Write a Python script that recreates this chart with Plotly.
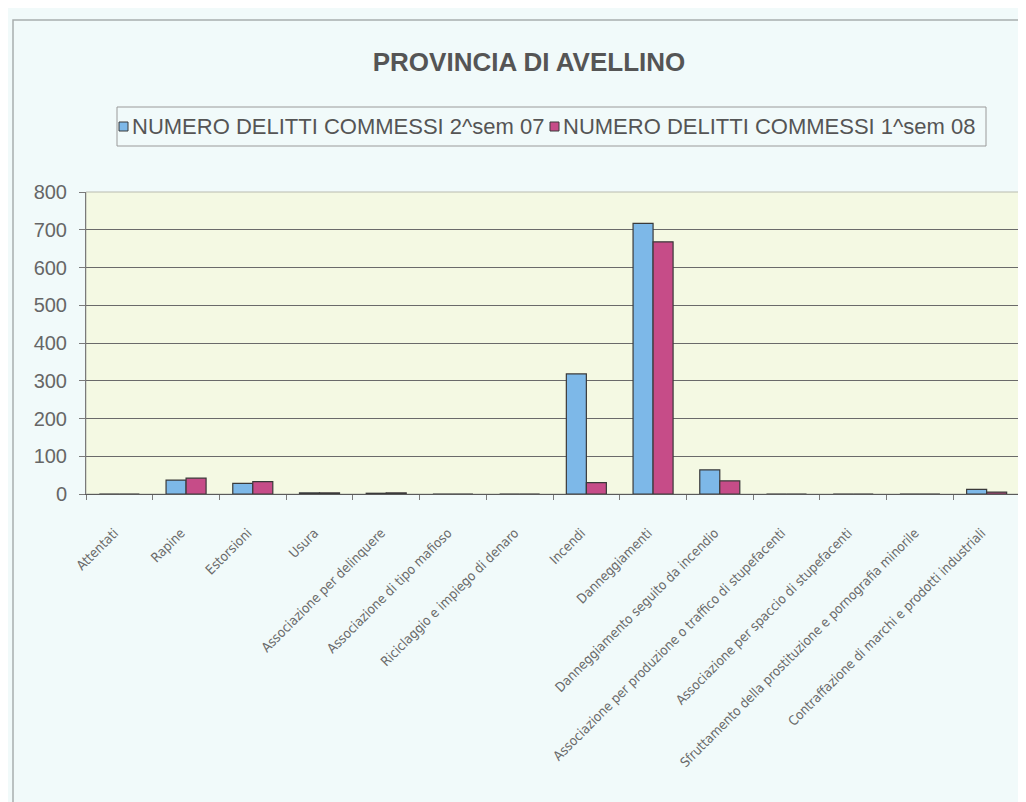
import plotly.graph_objects as go

categories = [
    "Attentati",
    "Rapine",
    "Estorsioni",
    "Usura",
    "Associazione per delinquere",
    "Associazione di tipo mafioso",
    "Riciclaggio e impiego di denaro",
    "Incendi",
    "Danneggiamenti",
    "Danneggiamento seguito da incendio",
    "Associazione per produzione o traffico di stupefacenti",
    "Associazione per spaccio di stupefacenti",
    "Sfruttamento della prostituzione e pornografia minorile",
    "Contraffazione di marchi e prodotti industriali",
]
sem2_07 = [0, 37, 28, 3, 2, 0, 0, 318, 717, 64, 0, 0, 0, 12]
sem1_08 = [0, 42, 33, 3, 3, 0, 0, 30, 668, 35, 0, 0, 0, 5]
series_names = ["NUMERO DELITTI COMMESSI 2^sem 07", "NUMERO DELITTI COMMESSI 1^sem 08"]
series_colors = ["#7db8e8", "#c64c88"]
y_ticks = [0, 100, 200, 300, 400, 500, 600, 700, 800]

# the page body adds an 8px offset, so the figure is a bit smaller
OFF = 8
W, H = 1018, 794
L, T = 86 - OFF, 192 - OFF
R = (W + OFF) - 1020
B = (H + OFF) - 494
pw, ph = W - L - R, H - T - B


def px(x):
    return (x - OFF - L) / pw


def py(y):
    return (H - B - (y - OFF)) / ph


fig = go.Figure()
for name, vals, col in zip(series_names, [sem2_07, sem1_08], series_colors):
    fig.add_trace(go.Bar(
        x=categories, y=vals, name=name,
        marker=dict(color=col, line=dict(color="#3a3a3a", width=1.2)),
    ))

# outer chart frame
fig.add_shape(type="rect", xref="paper", yref="paper",
              x0=px(13), x1=px(1060), y0=py(840), y1=py(20),
              line=dict(color="#a8aeae", width=1.5), layer="below")
# legend frame
fig.add_shape(type="rect", xref="paper", yref="paper",
              x0=px(117), x1=px(986), y0=py(146), y1=py(107),
              line=dict(color="#9a9a9a", width=1), layer="below")
# plot area frame
fig.add_shape(type="rect", xref="paper", yref="paper",
              x0=0, x1=1, y0=0, y1=1,
              line=dict(color="#b8bcb0", width=1), layer="below")

# legend drawn by hand: small square + label, like the original
legend_x = [119, 550]
for lx, name, col in zip(legend_x, series_names, series_colors):
    fig.add_shape(type="rect", xref="paper", yref="paper",
                  x0=px(lx), x1=px(lx + 9), y0=py(131), y1=py(122),
                  fillcolor=col, line=dict(color="#3a3a3a", width=1))
    fig.add_annotation(text=name, xref="paper", yref="paper",
                       x=px(lx + 11), y=py(127), xanchor="left", yanchor="middle",
                       showarrow=False,
                       font=dict(size=22, color="#555555"))

fig.update_layout(
    width=W, height=H, autosize=False,
    margin=dict(l=L, r=R, t=T, b=B, autoexpand=False),
    paper_bgcolor="#f1fafa",
    plot_bgcolor="#f4f9e3",
    font=dict(family="Liberation Sans, Arial, sans-serif", color="#5a5a5a"),
    title=dict(text="<b>PROVINCIA DI AVELLINO</b>", x=(529 - OFF) / W, xref="container",
               xanchor="center", y=1 - (62 - OFF) / H, yref="container", yanchor="middle",
               font=dict(size=26, color="#555555")),
    barmode="group",
    bargap=0.4,
    bargroupgap=0,
    showlegend=False,
)

fig.update_yaxes(
    range=[0, 800], tickvals=y_ticks, automargin=False,
    showgrid=True, gridcolor="#6a6a6a", gridwidth=1,
    showline=True, linecolor="#7a7a7a", linewidth=1,
    ticks="outside", ticklen=6, tickcolor="#7a7a7a",
    ticklabelstandoff=8,
    tickfont=dict(size=20, color="#666666"),
    zeroline=False, fixedrange=True,
)
fig.update_xaxes(
    tickangle=-45, tickson="boundaries", automargin=False,
    ticks="outside", ticklen=5, tickcolor="#7a7a7a",
    ticklabelstandoff=25, ticklabelshift=-5,
    showline=True, linecolor="#5a5a5a", linewidth=1.2,
    tickfont=dict(family="DejaVu Sans Condensed, Liberation Sans Narrow, sans-serif",
                  size=13.3, color="#6a6a6a"),
    fixedrange=True,
)

fig.write_html("out.html")
